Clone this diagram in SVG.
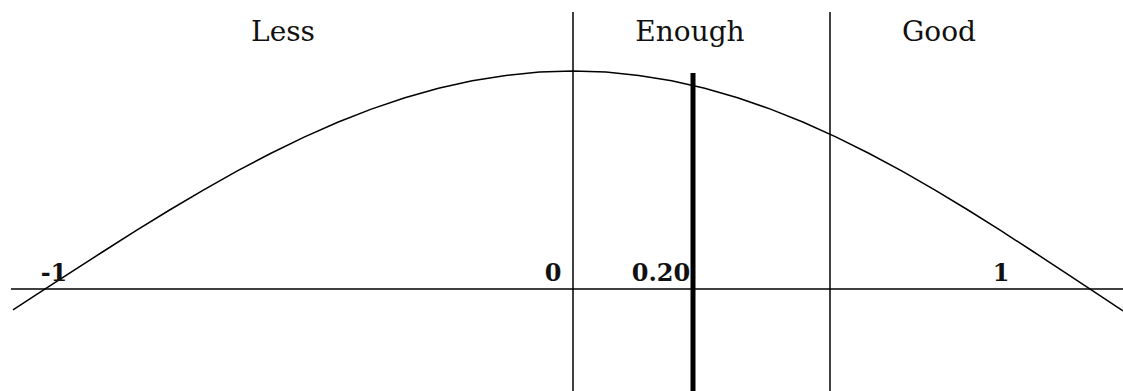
<svg xmlns="http://www.w3.org/2000/svg" width="1123" height="391" viewBox="0 0 1123 391">
  <style>
    .ln { stroke: #000; stroke-width: 1.5; fill: none; }
    .lbl { font-family: "DejaVu Serif", "Liberation Serif", serif; font-size: 28px; fill: #111; text-anchor: middle; }
    .num { font-family: "DejaVu Serif", "Liberation Serif", serif; font-size: 24px; font-weight: bold; fill: #111; text-anchor: middle; }
  </style>
  <defs>
    <filter id="shadow" x="-2" y="-0.1" width="5" height="1.2">
      <feGaussianBlur stdDeviation="2"/>
    </filter>
  </defs>
  <rect width="1123" height="391" fill="#fff"/>
  <g id="connectors">
    <line id="axis" class="ln" x1="11" y1="289" x2="1123" y2="289"/>
    <line id="divider-0" class="ln" x1="573" y1="12" x2="573" y2="391"/>
    <line id="divider-good" class="ln" x1="830" y1="12" x2="830" y2="391"/>
    <polyline id="curve" class="ln" points="13,309.8 35.2,295.4 68.8,273.6 102.4,252 136,230.7 169.6,210 203.3,190.1 236.9,171.2 270.5,153.5 304.1,137.1 337.7,122.3 371.3,109.1 404.9,97.7 438.5,88.2 472.2,80.7 505.8,75.4 539.4,72.1 573,71 605.9,72.1 638.8,75.4 671.7,80.7 704.7,88.2 737.6,97.7 770.5,109.1 803.4,122.3 836.3,137.1 869.2,153.5 902.1,171.2 935.1,190.1 968,210 1000.9,230.7 1033.8,252 1066.7,273.6 1099.6,295.4 1123,310.8"/>
    <line x1="693" y1="73" x2="693" y2="391" stroke="#000" stroke-opacity="0.45" stroke-width="6" filter="url(#shadow)"/>
    <line id="marker-020" x1="693" y1="73" x2="693" y2="391" stroke="#000" stroke-width="5"/>
  </g>
  <g id="label-less"><text class="lbl" x="283" y="41">Less</text></g>
  <g id="label-enough"><text class="lbl" x="690" y="41">Enough</text></g>
  <g id="label-good"><text class="lbl" x="939" y="41">Good</text></g>
  <g id="tick-minus1"><text class="num" x="54" y="281">-1</text></g>
  <g id="tick-0"><text class="num" x="553" y="281">0</text></g>
  <g id="tick-020"><text class="num" x="661" y="281">0.20</text></g>
  <g id="tick-1"><text class="num" x="1001" y="281">1</text></g>
</svg>
